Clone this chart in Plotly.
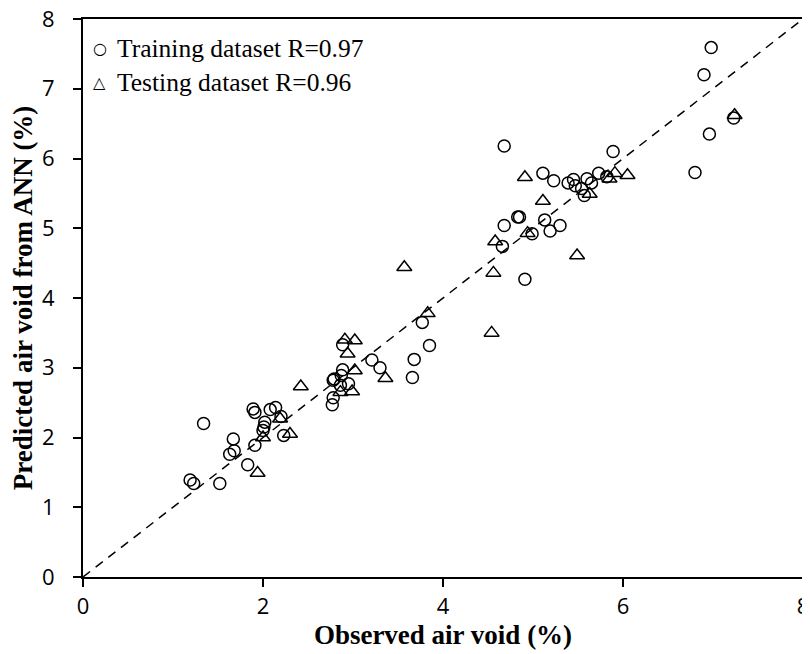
import plotly.graph_objects as go

# Training dataset (circles)
train_obs = [1.19, 1.23, 1.52, 1.34, 1.63, 1.68, 1.67, 1.83, 1.91, 1.89, 1.91, 2.00, 2.01, 2.02,
             2.08, 2.14, 2.20, 2.23, 2.77, 2.78, 2.78, 2.79, 2.87, 2.885, 2.95, 2.86, 2.885,
             3.21, 3.30, 3.66, 3.68, 3.77, 3.85, 4.66, 4.68, 4.68, 4.83, 4.85, 4.91, 4.99,
             5.13, 5.19, 5.30, 5.11, 5.23, 5.39, 5.45, 5.47, 5.54, 5.57, 5.60, 5.65, 5.73,
             5.82, 5.89, 6.80, 6.90, 6.96, 6.98, 7.23]
train_pred = [1.39, 1.34, 1.34, 2.20, 1.76, 1.81, 1.98, 1.61, 1.89, 2.41, 2.36, 2.10, 2.15, 2.22,
              2.40, 2.43, 2.30, 2.03, 2.47, 2.57, 2.82, 2.84, 2.89, 2.97, 2.77, 2.75, 3.33,
              3.11, 3.00, 2.86, 3.12, 3.65, 3.32, 4.74, 5.04, 6.18, 5.16, 5.16, 4.27, 4.92,
              5.12, 4.96, 5.04, 5.79, 5.68, 5.65, 5.70, 5.61, 5.57, 5.47, 5.71, 5.65, 5.79,
              5.74, 6.10, 5.80, 7.20, 6.35, 7.59, 6.58]

# Testing dataset (triangles)
test_obs = [1.94, 2.00, 2.19, 2.30, 2.42, 2.86, 2.91, 2.94, 2.99, 3.02, 3.02, 3.36, 3.57, 3.83,
            4.54, 4.56, 4.58, 4.91, 4.94, 5.11, 5.49, 5.63, 5.85, 5.91, 6.05, 7.24]
test_pred = [1.49, 2.00, 2.27, 2.05, 2.73, 2.65, 3.40, 3.20, 2.66, 2.96, 3.39, 2.85, 4.44, 3.78,
             3.50, 4.36, 4.81, 5.73, 4.93, 5.39, 4.61, 5.49, 5.71, 5.79, 5.76, 6.62]

# 1:1 reference line
ref_line = [0, 8]

tick_vals = [0, 2, 4, 6, 8]
ytick_vals = [0, 1, 2, 3, 4, 5, 6, 7, 8]

legend_labels = ["Training dataset R=0.97", "Testing dataset R=0.96"]

fig = go.Figure()
fig.add_trace(go.Scatter(x=ref_line, y=ref_line, mode="lines",
                         line=dict(color="black", width=1.5, dash="9px,7px"),
                         showlegend=False, hoverinfo="skip"))
fig.add_trace(go.Scatter(x=train_obs, y=train_pred, mode="markers", name=legend_labels[0],
                         marker=dict(symbol="circle-open", size=12, color="black",
                                     line=dict(width=1.5, color="black")),
                         showlegend=False))
fig.add_trace(go.Scatter(x=test_obs, y=test_pred, mode="markers", name=legend_labels[1],
                         marker=dict(symbol="triangle-up-open", size=13, color="black",
                                     line=dict(width=1.5, color="black")),
                         showlegend=False))

serif = "Liberation Serif, Times New Roman, serif"
symbols = ["○", "△"]
ys = [0.948, 0.887]
for sym, lab, yy in zip(symbols, legend_labels, ys):
    fig.add_annotation(xref="paper", yref="paper", x=0.0236, y=yy, text=sym,
                       showarrow=False, xanchor="center", yanchor="middle",
                       font=dict(family="DejaVu Sans", size=16, color="black"))
    fig.add_annotation(xref="paper", yref="paper", x=0.0444, y=yy, text=lab,
                       showarrow=False, xanchor="left", yanchor="middle",
                       font=dict(family=serif, size=25.5, color="black"))

axis_common = dict(showgrid=False, zeroline=False, showline=True, linecolor="black",
                   linewidth=2, mirror=True, ticks="outside", ticklen=8, tickwidth=1.5,
                   tickcolor="black", ticklabeloverflow="allow",
                   tickfont=dict(family="Open Sans", size=22, color="black"))

fig.update_xaxes(range=[0, 8], tickvals=tick_vals, **axis_common, ticklabelstandoff=1,
                 title=dict(text="<b>Observed air void (%)</b>",
                            font=dict(family=serif, size=27, color="black"), standoff=0))
fig.update_yaxes(range=[0, 8], tickvals=ytick_vals, **axis_common, ticklabelstandoff=14,
                 title=dict(text="<b>Predicted air void from ANN (%)</b>",
                            font=dict(family=serif, size=27, color="black"), standoff=10))

# The page body adds an 8px margin, so the figure is sized to fill the 810x654 window.
fig.update_layout(width=802, height=646, plot_bgcolor="white", paper_bgcolor="white",
                  margin=dict(l=75, r=7, t=11, b=77, autoexpand=False))

fig.write_html("out.html")
